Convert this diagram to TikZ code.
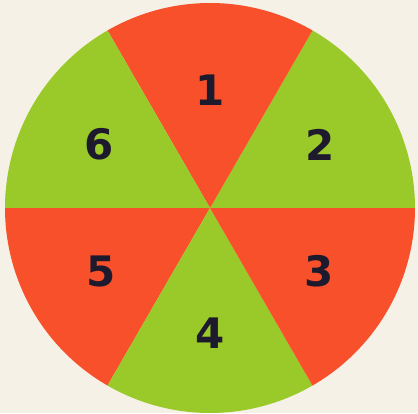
\documentclass[tikz,border=0pt]{standalone}
\usepackage{fontspec}
\setmainfont{DejaVu Sans}
\usetikzlibrary{positioning}
\definecolor{wheelred}{RGB}{247,80,42}
\definecolor{wheelgreen}{RGB}{154,201,42}
\definecolor{papercream}{RGB}{246,241,231}
\definecolor{digitink}{RGB}{30,26,46}

\begin{document}
\begin{tikzpicture}[x=1pt, y=1pt, every node/.style={font=\bfseries\fontsize{42}{42}\selectfont, text=digitink, inner sep=0pt}]
      \fill[papercream] (-210,-205) rectangle (208,208);
      \useasboundingbox (-210,-205) rectangle (208,208);
      \foreach \k/\lab/\col/\r in {0/2/wheelgreen/127, 1/1/wheelred/118, 2/6/wheelgreen/128, 3/5/wheelred/126, 4/4/wheelgreen/125, 5/3/wheelred/126} {
        \fill[\col] (0,0) -- (\k*60:205) arc[start angle=\k*60, end angle=\k*60+60, radius=205] -- cycle;
        \node (sec\lab) at (\k*60+30:\r) {\lab};
      }
    \end{tikzpicture}
\end{document}
